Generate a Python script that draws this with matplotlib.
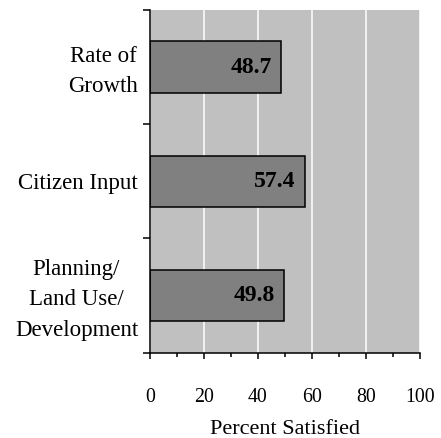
import matplotlib
matplotlib.use("Agg")
import matplotlib.pyplot as plt
import numpy as np
from matplotlib.ticker import MultipleLocator
from matplotlib.transforms import ScaledTranslation

# Satisfaction results, listed bottom to top
categories = ["Planning/\nLand Use/\nDevelopment", "Citizen Input", "Rate of\nGrowth"]
values = [49.8, 57.4, 48.7]
xticks = [0, 20, 40, 60, 80, 100]
xlabel = "Percent Satisfied"

plt.rcParams['font.family'] = ['Liberation Serif', 'DejaVu Serif']

fig = plt.figure(figsize=(4.41, 4.38), dpi=100)
ax = fig.add_axes([150 / 441, 1 - 352.5 / 438, 270 / 441, 342.5 / 438])
ax.set_facecolor('#C0C0C0')

pos = np.arange(len(categories))
bars = ax.barh(pos, values, height=0.45, color='#808080',
               edgecolor='black', linewidth=1.1, zorder=3)
for b, v in zip(bars, values):
    ax.annotate(f"{v:.1f}", xy=(v, b.get_y() + b.get_height() / 2),
                xytext=(-7, 0), textcoords='offset points',
                ha='right', va='center', fontsize=17, fontweight='bold',
                zorder=4)

ax.set_xlim(0, 100)
ax.set_ylim(-0.5, len(categories) - 0.5)

# x axis: labelled majors every 20, minors every 10
ax.set_xticks(xticks)
ax.set_xticklabels([str(t) for t in xticks])
ax.xaxis.set_minor_locator(MultipleLocator(10))
ax.tick_params(axis='x', which='major', direction='out', length=4.5,
               width=1.1, labelsize=14.3, pad=21)
ax.tick_params(axis='x', which='minor', direction='out', length=3, width=1.1)

# y axis: ticks on category boundaries, labels centred on the bars
ax.set_yticks(np.arange(-0.5, len(categories), 1.0))
ax.set_yticklabels([])
ax.set_yticks(pos, minor=True)
ax.set_yticklabels(categories, minor=True, fontsize=16.5,
                   multialignment='center', linespacing=1.6)
ax.tick_params(axis='y', which='major', direction='out', length=5, width=1.1)
ax.tick_params(axis='y', which='minor', length=0, pad=8.6)

# nudge the wrapped labels up a little so the text block sits centred
lift = ScaledTranslation(0, 3 / 100, fig.dpi_scale_trans)
for lbl in ax.get_yticklabels(minor=True):
    if "\n" in lbl.get_text():
        lbl.set_transform(lbl.get_transform() + lift)

ax.grid(axis='x', which='major', color='white', linewidth=1.1, zorder=1)
ax.set_axisbelow(True)

for side in ('top', 'right'):
    ax.spines[side].set_visible(False)
for side in ('left', 'bottom'):
    ax.spines[side].set_linewidth(1.1)
    ax.spines[side].set_zorder(5)

ax.set_xlabel(xlabel, fontsize=16, labelpad=9.5)

fig.savefig("out.png", dpi=100)
